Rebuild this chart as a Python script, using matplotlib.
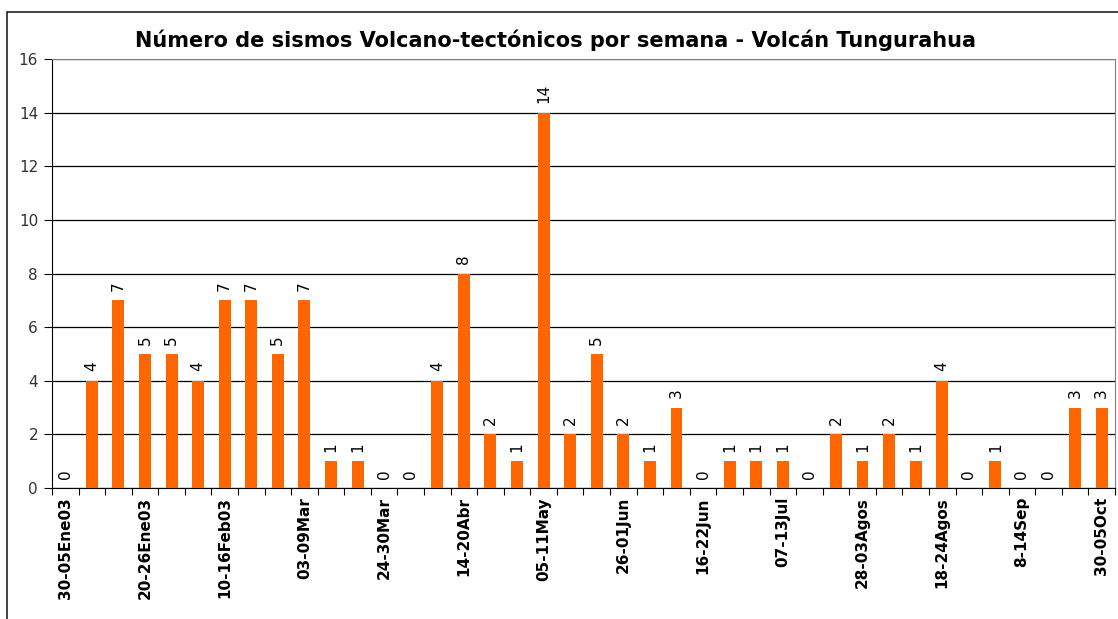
import matplotlib.pyplot as plt
from matplotlib.patches import Rectangle

# Sismos VT por semana (40 semanas)
valores = [0, 4, 7, 5, 5, 4, 7, 7, 5, 7,
           1, 1, 0, 0, 4, 8, 2, 1, 14, 2,
           5, 2, 1, 3, 0, 1, 1, 1, 0, 2,
           1, 2, 1, 4, 0, 1, 0, 0, 3, 3]

etiquetas = ['30-05Ene03', '20-26Ene03', '10-16Feb03', '03-09Mar', '24-30Mar',
             '14-20Abr', '05-11May', '26-01Jun', '16-22Jun', '07-13Jul',
             '28-03Agos', '18-24Agos', '8-14Sep', '30-05Oct']
cada = 3

fig = plt.figure(figsize=(11.18, 6.19), dpi=100)
ax = fig.add_axes([0.0465, 0.2116, 0.9508, 0.6931])

# marco exterior del grafico
fig.patches.append(Rectangle((7 / 1118, -0.01), 1.0, 1 - 12 / 619 + 0.01,
                             transform=fig.transFigure, fill=False,
                             edgecolor='#222222', linewidth=1.2))

x = list(range(len(valores)))
ax.bar(x, valores, width=0.45, color='#FF6600', zorder=3)

for xi, v in zip(x, valores):
    ax.text(xi, v + 0.35, str(v), rotation=90, ha='center', va='bottom',
            fontsize=11, zorder=4)

ax.set_xlim(-0.5, len(valores) - 0.5)
ax.set_ylim(0, 16)
ax.set_yticks(range(0, 17, 2))
ax.tick_params(axis='y', labelsize=11, length=6, direction='out', pad=4,
               labelcolor='#333333')
ax.yaxis.grid(True, color='black', linewidth=0.9, zorder=0)

# marcas entre categorias y etiquetas cada 3 semanas
ax.set_xticks([i - 0.5 for i in range(len(valores) + 1)])
ax.set_xticklabels([])
ax.set_xticks(range(0, len(valores), cada), minor=True)
ax.set_xticklabels(etiquetas, minor=True, rotation=90, fontsize=11,
                   fontweight='bold', va='top')
ax.tick_params(axis='x', which='major', length=5, direction='out')
ax.tick_params(axis='x', which='minor', length=0, pad=6.5)

for lado in ['top', 'right']:
    ax.spines[lado].set_color('#808080')
for lado in ['left', 'bottom']:
    ax.spines[lado].set_color('black')

fig.text(0.497, 0.935, 'Número de sismos Volcano-tectónicos por semana - Volcán Tungurahua',
         ha='center', va='center', fontsize=15, fontweight='bold')

fig.savefig('out.png', dpi=100)
